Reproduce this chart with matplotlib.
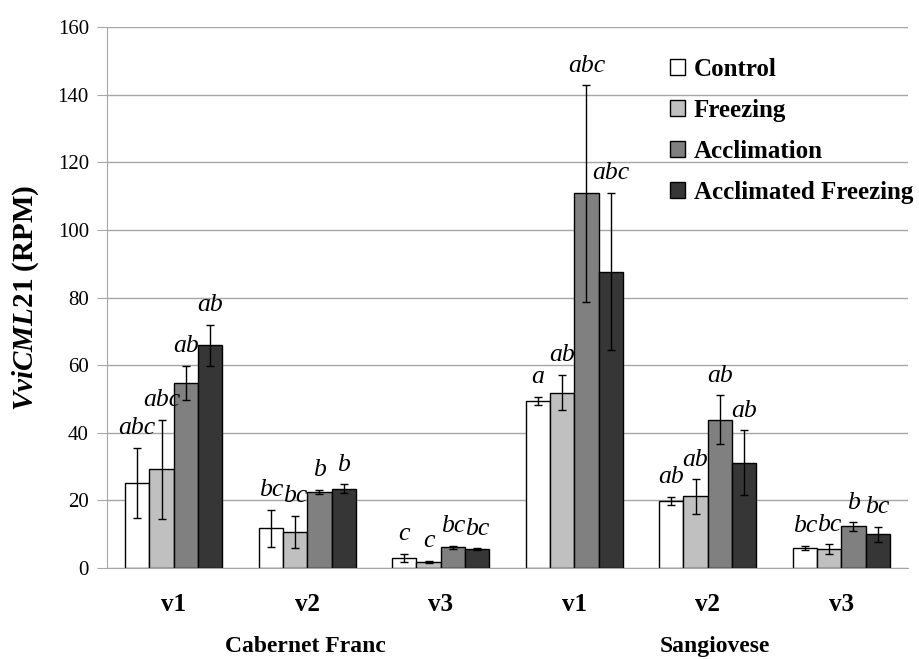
import numpy as np
import matplotlib
matplotlib.use('Agg')
import matplotlib.pyplot as plt
from matplotlib.patches import Patch

# data
groups = ['v1', 'v2', 'v3', 'v1', 'v2', 'v3']
cultivars = ['Cabernet Franc', 'Sangiovese']
treatments = ['Control', 'Freezing', 'Acclimation', 'Acclimated Freezing']
colors = ['#ffffff', '#c0c0c0', '#808080', '#363636']

control = [25.1, 11.7, 3.0, 49.4, 19.9, 5.9]
freezing = [29.2, 10.7, 1.9, 51.9, 21.2, 5.6]
acclimation = [54.8, 22.5, 6.1, 110.8, 43.9, 12.3]
acc_freezing = [65.9, 23.5, 5.6, 87.7, 31.2, 10.0]

control_err = [10.4, 5.6, 1.2, 1.3, 1.2, 0.7]
freezing_err = [14.6, 4.8, 0.3, 5.3, 5.1, 1.4]
acclimation_err = [5.0, 0.7, 0.5, 32.0, 7.2, 1.2]
acc_freezing_err = [6.0, 1.3, 0.2, 23.3, 9.6, 2.2]

control_lbl = ['abc', 'bc', 'c', 'a', 'ab', 'bc']
freezing_lbl = ['abc', 'bc', 'c', 'ab', 'ab', 'bc']
acclimation_lbl = ['ab', 'b', 'bc', 'abc', 'ab', 'b']
acc_freezing_lbl = ['ab', 'b', 'bc', 'abc', 'ab', 'bc']

values = [control, freezing, acclimation, acc_freezing]
errors = [control_err, freezing_err, acclimation_err, acc_freezing_err]
letters = [control_lbl, freezing_lbl, acclimation_lbl, acc_freezing_lbl]

serif = ['Liberation Serif', 'DejaVu Serif']
plt.rcParams['font.family'] = serif
plt.rcParams['mathtext.fontset'] = 'custom'
plt.rcParams['mathtext.it'] = 'Liberation Serif:italic:bold'
plt.rcParams['mathtext.rm'] = 'Liberation Serif:bold'

fig = plt.figure(figsize=(9.19, 6.59), dpi=100)
ax = fig.add_axes([0.1164, 0.138, 0.8716, 0.821])

x = np.arange(len(groups))
w = 0.182
for i in range(4):
    xs = x + (i - 1.5) * w
    ax.bar(xs, values[i], w, color=colors[i], edgecolor='black', linewidth=1, zorder=3)
    ax.errorbar(xs, values[i], yerr=errors[i], fmt='none', ecolor='black',
                elinewidth=1, capsize=2.8, capthick=1, zorder=4)
    for j in range(len(groups)):
        ax.text(xs[j], values[i][j] + errors[i][j] + 4, letters[i][j],
                ha='center', va='baseline', fontsize=18.5, style='italic', zorder=5)

ax.set_xlim(-0.5, len(groups) - 0.5)
ax.set_ylim(0, 160)
ax.set_yticks(np.arange(0, 161, 20))
ax.yaxis.grid(True, color='#a6a6a6', linewidth=1)
ax.set_axisbelow(True)
for s in ['top', 'right']:
    ax.spines[s].set_visible(False)
ax.spines['left'].set_color('#a6a6a6')
ax.spines['bottom'].set_color('#a6a6a6')
ax.tick_params(axis='y', length=7, color='#a6a6a6', labelsize=15, pad=6)
ax.set_xticks(x)
ax.set_xticklabels(groups, fontsize=18, fontweight='bold')
ax.tick_params(axis='x', length=0, pad=18)

fig.text(0.332, 1 - 652 / 659, cultivars[0], ha='center', va='baseline',
         fontsize=17, fontweight='bold')
fig.text(0.778, 1 - 652 / 659, cultivars[1], ha='center', va='baseline',
         fontsize=17, fontweight='bold')

ax.set_ylabel(r'$\mathit{VviCML21}$ (RPM)', fontsize=21, fontweight='bold', labelpad=12)

handles = [Patch(facecolor=c, edgecolor='black', linewidth=1) for c in colors]
leg = ax.legend(handles, treatments, loc='upper left', bbox_to_anchor=(0.729, 0.912),
                bbox_transform=fig.transFigure, frameon=False, borderpad=0, borderaxespad=0,
                handlelength=0.6, handleheight=0.6, handletextpad=0.35, labelspacing=0.72,
                prop={'size': 18, 'weight': 'bold', 'family': serif})

fig.savefig('out.png', dpi=100)
